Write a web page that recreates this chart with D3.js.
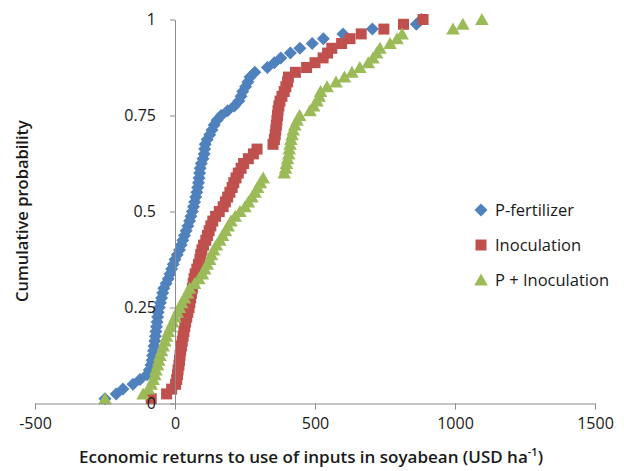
<!DOCTYPE html>
<html>
<head>
<meta charset="utf-8">
<script src="https://cdn.jsdelivr.net/npm/d3@7"></script>
<style>
  body { margin: 0; background: #fff; }
  text { font-family: "Open Sans", "Noto Sans", sans-serif; fill: #1a1a1a; }
</style>
</head>
<body>
<svg id="chart" width="624" height="471"></svg>
<script>
// series names, in legend order
var seriesNames = ["P-fertilizer", "Inoculation", "P + Inoculation"];
var seriesColors = ["#4f81bd", "#c0504d", "#9bbb59"];
var seriesShapes = ["diamond", "square", "triangle"];

// economic returns (USD/ha), sorted; cumulative probability = rank / n
var pFertilizer = [-250, -210, -186, -150, -125, -100, -92, -86, -82, -80,
  -77, -75, -72, -70, -68, -66, -64, -62, -60, -56,
  -52, -48, -44, -40, -32, -24, -18, -12, -6, 0,
  8, 16, 22, 28, 34, 40, 46, 52, 57, 62,
  66, 70, 74, 78, 81, 84, 86, 88, 90, 94,
  100, 104, 106, 108, 115, 124, 132, 140, 150, 165,
  188, 212, 228, 236, 242, 252, 260, 268, 285, 330,
  355, 378, 412, 446, 490, 530, 600, 705, 862, 880];

var inoculation = [-85, -30, -12, 2, 6, 9, 11, 14, 16, 18,
  20, 23, 26, 29, 32, 35, 38, 42, 46, 50,
  53, 56, 59, 62, 65, 68, 72, 78, 84, 89,
  92, 96, 102, 110, 116, 122, 128, 135, 145, 158,
  172, 180, 188, 196, 204, 210, 218, 226, 236, 245,
  262, 280, 293, 350, 355, 358, 360, 362, 364, 366,
  368, 371, 375, 382, 390, 396, 402, 405, 430, 470,
  500, 529, 545, 560, 595, 625, 665, 746, 816, 886];

var pInoculation = [-250, -114, -95, -85, -78, -72, -68, -62, -58, -54,
  -48, -42, -36, -30, -24, -16, -8, 0, 8, 16,
  24, 34, 44, 52, 70, 85, 98, 106, 115, 124,
  130, 138, 148, 160, 170, 180, 190, 200, 215, 232,
  250, 262, 275, 286, 295, 305, 315, 390, 395, 398,
  402, 406, 408, 411, 414, 418, 422, 428, 436, 445,
  482, 495, 507, 515, 520, 543, 575, 605, 632, 660,
  690, 707, 720, 732, 768, 793, 811, 993, 1028, 1096];

var xTicks = [-500, 0, 500, 1000, 1500];
var yTicks = [0, 0.25, 0.5, 0.75, 1];

var svg = d3.select("#chart");

var x = d3.scaleLinear().domain([-500, 1500]).range([35, 595]);
var y = d3.scaleLinear().domain([0, 1]).range([403.5, 19.5]);

// marker paths centred on 0,0
var shapePath = {
    diamond: "M0,-6.5L6.5,0L0,6.5L-6.5,0Z",
    square: "M-5.5,-5.5H5.5V5.5H-5.5Z",
    triangle: "M0,-6.5L6.8,5.5L-6.8,5.5Z"
};

var allSeries = [pFertilizer, inoculation, pInoculation];

allSeries.forEach(function (vals, s) {
    var n = vals.length;
    var pts = vals.map(function (v, i) {
        return {x: v, p: (i + 1) / n};
    });
    svg.append("g")
        .selectAll("path")
        .data(pts)
        .enter().append("path")
        .attr("d", shapePath[seriesShapes[s]])
        .attr("fill", seriesColors[s])
        .attr("transform", function (d) {
            return "translate(" + x(d.x) + "," + y(d.p) + ")";
        });
});

// x axis
var xAxis = svg.append("g")
    .attr("transform", "translate(0," + y(0) + ")")
    .call(d3.axisBottom(x).tickValues(xTicks).tickSize(6).tickPadding(8).tickSizeOuter(0)
        .tickFormat(function (d) { return String(d); }));

// y axis
var yAxis = svg.append("g")
    .attr("transform", "translate(" + x(0) + ",0)")
    .call(d3.axisLeft(y).tickValues(yTicks).tickSize(5).tickPadding(14).tickSizeOuter(0)
        .tickFormat(function (d) { return String(d); }));

[xAxis, yAxis].forEach(function (a) {
    a.select(".domain").attr("stroke", "#8c8c8c");
    a.selectAll(".tick line").attr("stroke", "#8c8c8c");
    a.selectAll(".tick text")
        .attr("fill", "#1a1a1a")
        .style("font-family", "'Open Sans', sans-serif")
        .style("font-size", "16px");
});

// axis titles
svg.append("text")
    .attr("transform", "translate(28,211) rotate(-90)")
    .attr("text-anchor", "middle")
    .style("font-size", "16.5px")
    .style("font-weight", "600")
    .text("Cumulative probability");

var xt = svg.append("text")
    .attr("x", 311)
    .attr("y", 463)
    .attr("text-anchor", "middle")
    .style("font-size", "17px")
    .style("font-weight", "600");
xt.append("tspan").text("Economic returns to use of inputs in soyabean (USD ha");
xt.append("tspan").attr("dy", -7).style("font-size", "11px").text("-1");
xt.append("tspan").attr("dy", 7).text(")");

// legend
var legend = svg.append("g")
    .selectAll("g")
    .data(seriesNames)
    .enter().append("g")
    .attr("transform", function (d, i) {
        return "translate(481," + (210 + i * 35) + ")";
    });

legend.append("path")
    .attr("d", function (d, i) { return shapePath[seriesShapes[i]]; })
    .attr("fill", function (d, i) { return seriesColors[i]; });

legend.append("text")
    .attr("x", 14)
    .attr("dy", "0.35em")
    .style("font-size", "16.5px")
    .text(function (d) { return d; });
</script>
</body>
</html>
